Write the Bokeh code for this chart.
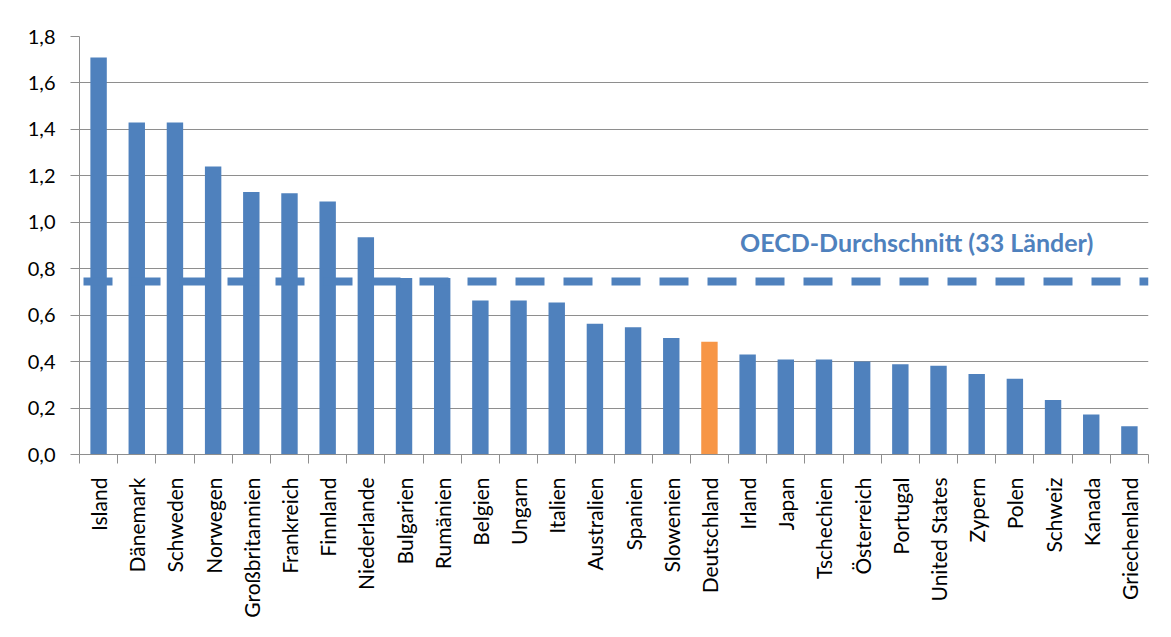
import math
from bokeh.plotting import figure
from bokeh.models import (Range1d, FixedTicker, CustomJSTickFormatter, Span, Label)
from bokeh.embed import file_html
from bokeh.resources import INLINE

countries = ["Island", "Dänemark", "Schweden", "Norwegen", "Großbritannien", "Frankreich",
             "Finnland", "Niederlande", "Bulgarien", "Rumänien", "Belgien", "Ungarn",
             "Italien", "Australien", "Spanien", "Slowenien", "Deutschland", "Irland",
             "Japan", "Tschechien", "Österreich", "Portugal", "United States", "Zypern",
             "Polen", "Schweiz", "Kanada", "Griechenland"]
values = [1.71, 1.43, 1.43, 1.24, 1.13, 1.125, 1.09, 0.935, 0.76, 0.76, 0.663, 0.663,
          0.655, 0.563, 0.548, 0.502, 0.485, 0.431, 0.409, 0.409, 0.401, 0.389, 0.382,
          0.347, 0.326, 0.235, 0.172, 0.122]
highlight = "Deutschland"
oecd_avg = 0.745
oecd_label = "OECD-Durchschnitt (33 Länder)"
y_ticks = [0.0, 0.2, 0.4, 0.6, 0.8, 1.0, 1.2, 1.4, 1.6, 1.8]

BLUE = "#4f81bd"
ORANGE = "#f79646"
GRID = "#8e8e8e"
FONT = "Lato"

n = len(countries)
centers = [i + 0.5 for i in range(n)]
colors = [ORANGE if c == highlight else BLUE for c in countries]

p = figure(width=1155, height=621, output_backend="svg", toolbar_location=None,
           x_range=Range1d(0, n), y_range=Range1d(y_ticks[0], y_ticks[-1]),
           min_border_left=79, min_border_top=36, min_border_right=7, min_border_bottom=167)
p.outline_line_color = None
p.background_fill_color = "white"
p.border_fill_color = "white"

p.vbar(x=centers, top=values, width=0.43, fill_color=colors, line_color=None)

p.add_layout(Span(location=oecd_avg, dimension="width", line_color=BLUE,
                  line_width=8, line_dash="29 19", line_dash_offset=44))
p.add_layout(Label(x=17.3, y=0.917, text=oecd_label, text_color=BLUE,
                   text_font=FONT, text_font_size="25px", text_font_style="bold",
                   text_baseline="middle", text_align="left"))

# x axis: labels at bar centres, tick marks at category boundaries
xa = p.xaxis[0]
xa.ticker = FixedTicker(ticks=centers, minor_ticks=list(range(n + 1)))
xa.formatter = CustomJSTickFormatter(args=dict(names=countries),
                                     code="return names[Math.floor(tick)];")
xa.major_label_orientation = math.pi / 2
xa.major_tick_out = 0
xa.major_tick_in = 0
xa.minor_tick_out = 9
xa.minor_tick_in = 0
xa.minor_tick_line_color = GRID
xa.axis_line_color = GRID
xa.major_label_standoff = 14
xa.major_label_text_font = FONT
xa.major_label_text_font_size = "21px"
xa.major_label_text_color = "#000000"

# y axis
ya = p.yaxis[0]
ya.ticker = FixedTicker(ticks=y_ticks, minor_ticks=[])
ya.formatter = CustomJSTickFormatter(code="return tick.toFixed(1).replace('.', ',');")
ya.major_tick_out = 9
ya.major_tick_in = 0
ya.major_tick_line_color = GRID
ya.axis_line_color = GRID
ya.major_label_standoff = 15
ya.major_label_text_font = FONT
ya.major_label_text_font_size = "20px"
ya.major_label_text_color = "#000000"

p.xgrid.grid_line_color = None
p.ygrid.grid_line_color = GRID
p.ygrid.grid_line_width = 1

open("out.html", "w").write(file_html(p, INLINE))
